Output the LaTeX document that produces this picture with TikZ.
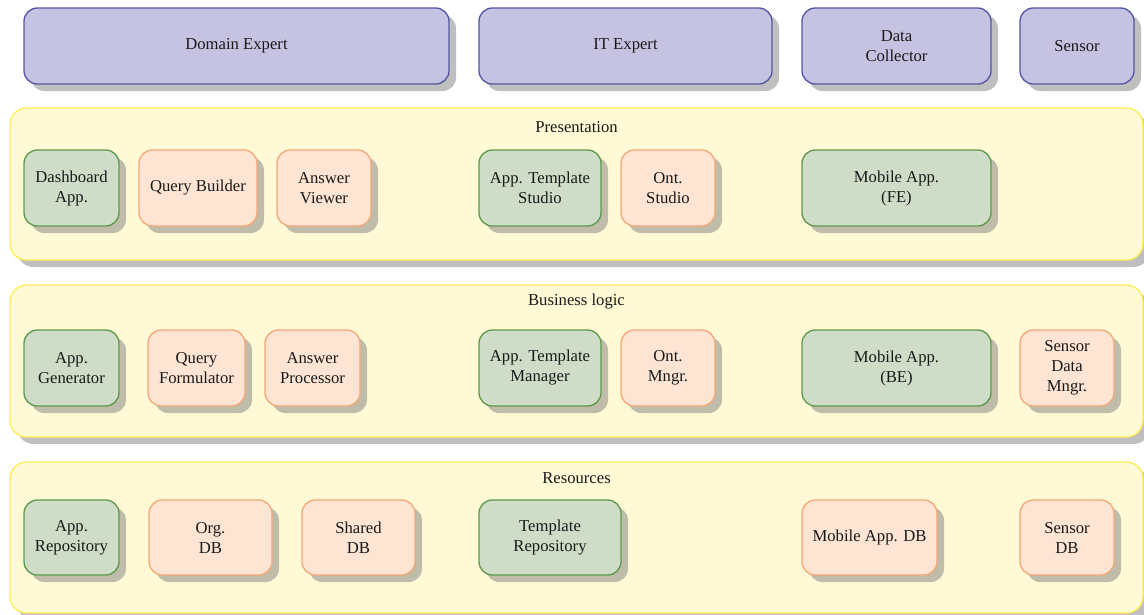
\documentclass[tikz,border=0pt]{standalone}
\usepackage{fontspec}
\setmainfont{Liberation Serif}
\usetikzlibrary{shadows}
\definecolor{actfill}{HTML}{C6C3E2}
\definecolor{actline}{HTML}{5555A5}
\definecolor{grnfill}{HTML}{CFDCC8}
\definecolor{grnline}{HTML}{5E9A4C}
\definecolor{orgfill}{HTML}{FDE4D3}
\definecolor{orgline}{HTML}{F5A877}
\definecolor{layfill}{HTML}{FFFAD5}
\definecolor{layline}{HTML}{FFEE55}
\newcommand\mybox[7]{\node[#2, minimum width={(#5-#3)*0.6pt}, minimum height={(#6-#4)*0.6pt}] (#1) at ({(#3+#5)/2},{(#4+#6)/2}) {#7};}
\tikzset{
  base/.style={rounded corners=8pt, line width=0.8pt, align=center, inner sep=0pt,
    font=\fontsize{10}{12}\selectfont, text=black!90,
    drop shadow={shadow xshift=4.2pt, shadow yshift=-4.2pt}},
  actor/.style={base, fill=actfill, draw=actline},
  gbox/.style={base, fill=grnfill, draw=grnline},
  obox/.style={base, fill=orgfill, draw=orgline},
  layer/.style={base, rounded corners=10pt, fill=layfill, draw=layline},
  laytitle/.style={font=\fontsize{10}{12}\selectfont, text=black!90, inner sep=0pt}
}
\begin{document}
\begin{tikzpicture}[x=0.6pt, y=-0.6pt]
\useasboundingbox (0,0) rectangle (1144,614);
% actors
\mybox{domexp}{actor}{24}{8}{449}{84}{Domain Expert}
\mybox{itexp}{actor}{479}{8}{772}{84}{IT Expert}
\mybox{datacol}{actor}{802}{8}{991}{84}{Data\\Collector}
\mybox{sensor}{actor}{1020}{8}{1134}{84}{Sensor}
% layers
\mybox{pres}{layer}{10}{108}{1143}{260}{}
\node[laytitle] (prestitle) at (576.5,127) {Presentation};
\mybox{dash}{gbox}{24}{150}{119}{226}{Dashboard\\App.}
\mybox{qb}{obox}{139}{150}{257}{226}{Query Builder}
\mybox{av}{obox}{277}{150}{371}{226}{Answer\\Viewer}
\mybox{ats}{gbox}{479}{150}{601}{226}{App. Template\\Studio}
\mybox{onts}{obox}{621}{150}{715}{226}{Ont.\\Studio}
\mybox{mfe}{gbox}{802}{150}{991}{226}{Mobile App.\\(FE)}
%
\mybox{bus}{layer}{10}{285}{1143}{437}{}
\node[laytitle] (bustitle) at (576.5,302) {Business logic};
\mybox{agen}{gbox}{24}{330}{119}{406}{App.\\Generator}
\mybox{qf}{obox}{148}{330}{245}{406}{Query\\Formulator}
\mybox{ap}{obox}{265}{330}{360}{406}{Answer\\Processor}
\mybox{atm}{gbox}{479}{330}{601}{406}{App. Template\\Manager}
\mybox{ontm}{obox}{621}{330}{715}{406}{Ont.\\Mngr.}
\mybox{mbe}{gbox}{802}{330}{991}{406}{Mobile App.\\(BE)}
\mybox{sdm}{obox}{1020}{330}{1114}{406}{Sensor\\Data\\Mngr.}
%
\mybox{res}{layer}{10}{462}{1143}{613}{}
\node[laytitle] (restitle) at (576.5,478) {Resources};
\mybox{arepo}{gbox}{24}{500}{119}{575}{App.\\Repository}
\mybox{orgdb}{obox}{149}{500}{272}{575}{Org.\\DB}
\mybox{shdb}{obox}{302}{500}{415}{575}{Shared\\DB}
\mybox{trepo}{gbox}{479}{500}{621}{575}{Template\\Repository}
\mybox{mdb}{obox}{802}{500}{937}{575}{Mobile App. DB}
\mybox{sdb}{obox}{1020}{500}{1114}{575}{Sensor\\DB}
\end{tikzpicture}
\end{document}
